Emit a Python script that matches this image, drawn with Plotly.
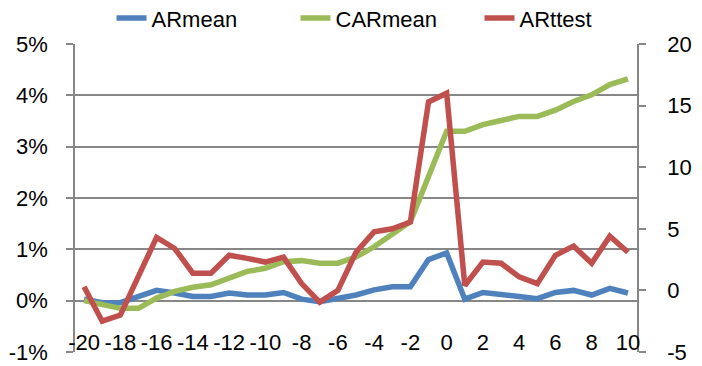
import plotly.graph_objects as go

categories = list(range(-20, 11))

ar_mean = [0.03, -0.04, -0.04, 0.08, 0.20, 0.15, 0.08, 0.08, 0.15, 0.11, 0.11, 0.16,
           0.03, -0.02, 0.05, 0.11, 0.21, 0.27, 0.27, 0.80, 0.93, 0.03, 0.16, 0.13,
           0.08, 0.04, 0.16, 0.20, 0.11, 0.24, 0.15]
car_mean = [0.00, -0.07, -0.15, -0.15, 0.05, 0.18, 0.26, 0.31, 0.44, 0.57, 0.63, 0.76,
            0.78, 0.73, 0.73, 0.85, 1.05, 1.28, 1.54, 2.42, 3.30, 3.30, 3.43, 3.51,
            3.59, 3.59, 3.71, 3.88, 4.01, 4.21, 4.32]
ar_ttest = [0.3, -2.5, -2.0, 1.2, 4.3, 3.4, 1.4, 1.4, 2.85, 2.6, 2.3, 2.7,
            0.55, -0.95, 0.0, 3.1, 4.75, 5.0, 5.55, 15.3, 16.0, 0.4, 2.3, 2.2,
            1.1, 0.55, 2.85, 3.6, 2.2, 4.4, 3.1]

x_tick_vals = list(range(-20, 11, 2))
x_tick_text = ["-20", "-18", "-16", "-14", "-12", "-10", "-8", "-6", "-4", "-2",
               "0", "2", "4", "6", "8", "10"]
y_tick_vals = [-0.01, 0.0, 0.01, 0.02, 0.03, 0.04, 0.05]
y_tick_text = ["-1%", "0%", "1%", "2%", "3%", "4%", "5%"]
y2_tick_vals = [-5, 0, 5, 10, 15, 20]
y2_tick_text = ["-5", "0", "5", "10", "15", "20"]

FONT = "Liberation Sans, Arial, sans-serif"
GRAY = "#878787"

fig = go.Figure()
fig.add_trace(go.Scatter(x=categories, y=[v / 100 for v in ar_mean], name="ARmean",
                         mode="lines", line=dict(color="#4F81BD", width=5.5),
                         xaxis="x", yaxis="y"))
fig.add_trace(go.Scatter(x=categories, y=[v / 100 for v in car_mean], name="CARmean",
                         mode="lines", line=dict(color="#9BBB59", width=5.5),
                         xaxis="x", yaxis="y"))
fig.add_trace(go.Scatter(x=categories, y=ar_ttest, name="ARttest",
                         mode="lines", line=dict(color="#C0504D", width=5.5),
                         xaxis="x", yaxis="y2"))

xr = [categories[0] - 0.5, categories[-1] + 0.5]
ymin, ymax = y_tick_vals[0], y_tick_vals[-1]
zero_pos = (0 - ymin) / (ymax - ymin)
boundaries = [c - 0.5 for c in categories[1:]]

fig.update_layout(
    width=702, height=366,
    margin=dict(l=75, r=65, t=44, b=14, autoexpand=False),
    paper_bgcolor="white", plot_bgcolor="white",
    font=dict(family=FONT, size=22, color="black"),
    showlegend=True,
    legend=dict(orientation="h", x=0.065, xanchor="left", y=1.084, yanchor="middle",
                font=dict(size=22), bgcolor="rgba(0,0,0,0)", itemwidth=30,
                entrywidth=139, entrywidthmode="pixels"),
    xaxis2=dict(range=xr, overlaying="x", anchor="y", showticklabels=False,
                ticks="", showline=True, mirror=True, linecolor=GRAY,
                linewidth=1.5, showgrid=False, zeroline=False),
    xaxis=dict(range=xr, tickvals=x_tick_vals, ticktext=x_tick_text,
               anchor="free", position=0.08,
               showgrid=False, zeroline=False, ticks="", showline=False,
               tickfont=dict(size=22)),
    xaxis3=dict(range=xr, overlaying="x", anchor="free", position=zero_pos,
                tickvals=boundaries, showticklabels=False, ticks="outside",
                ticklen=6, tickcolor=GRAY, tickwidth=1.5, showline=True,
                linecolor=GRAY, linewidth=1.5, showgrid=False, zeroline=False),
    yaxis=dict(range=[ymin, ymax], tickvals=y_tick_vals, ticktext=y_tick_text,
               showgrid=True, gridcolor=GRAY, gridwidth=1.5, zeroline=False,
               showline=True, linecolor=GRAY, linewidth=1.5, ticks="outside",
               ticklen=7, tickcolor=GRAY, tickwidth=1.5, ticklabelstandoff=14),
    yaxis2=dict(range=[y2_tick_vals[0], y2_tick_vals[-1]], tickvals=y2_tick_vals,
                ticktext=y2_tick_text, overlaying="y", side="right", anchor="x",
                showgrid=False, zeroline=False, showline=True, linecolor=GRAY,
                linewidth=1.5, ticks="outside", ticklen=7, tickcolor=GRAY,
                tickwidth=1.5, ticklabelstandoff=17),
)

fig.write_html("out.html",
               config={"displayModeBar": False},
               post_script="document.body.style.margin='0';document.body.style.overflow='hidden';")
